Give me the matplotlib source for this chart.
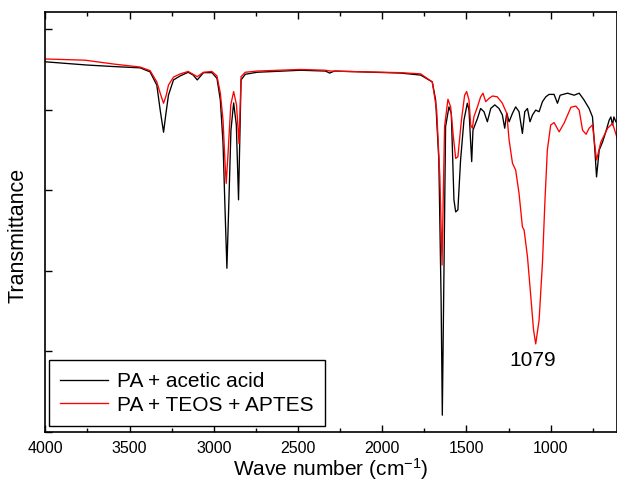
import numpy as np
import matplotlib
matplotlib.use('Agg')
import matplotlib.pyplot as plt
from matplotlib.ticker import MultipleLocator, NullFormatter

plt.rcParams['font.family'] = ['Liberation Sans', 'DejaVu Sans']
plt.rcParams['mathtext.fontset'] = 'custom'
plt.rcParams['mathtext.rm'] = 'Liberation Sans'
plt.rcParams['mathtext.it'] = 'Liberation Sans:italic'

# PA + acetic acid (wavenumber cm-1, transmittance, arbitrary %)
wn_acetic = [4000, 3754, 3586, 3437, 3378, 3338, 3318, 3298, 3285, 3269, 3239, 3199,
             3152, 3122, 3098, 3061, 3011, 2981, 2961, 2945, 2933, 2922, 2910, 2898,
             2882, 2866, 2853, 2838, 2813, 2743, 2486, 2337, 2312, 2284, 1891, 1772,
             1703, 1683, 1664, 1650.5, 1643.4, 1635.6, 1624, 1604, 1590, 1574.4, 1564,
             1551, 1535, 1515, 1495, 1485, 1475, 1469, 1461.5, 1435, 1416, 1396, 1376,
             1356, 1332, 1307, 1287, 1273, 1261, 1247, 1227, 1208, 1188, 1168, 1154,
             1138, 1123, 1108, 1089, 1069, 1049, 1029, 1010, 980, 960, 944, 900, 861,
             831, 802, 772, 752, 738, 728, 712, 692, 673, 653, 643, 633, 625, 613]
tr_acetic = [91.9, 91.1, 90.7, 90.4, 89.4, 86.1, 79.9, 74.4, 78.7, 83.6, 87.4, 88.4,
             89.3, 88.6, 87.4, 89.2, 89.2, 87.8, 82.4, 71.7, 55.1, 40.6, 57.6, 74.9,
             81.7, 76.2, 57.6, 87.4, 88.8, 89.3, 89.8, 89.6, 89.1, 89.6, 89.1, 88.6,
             86.9, 82.4, 67.5, 32.7, 4.1, 32.7, 75.8, 80.7, 79.1, 57.6, 54.6,
             55.1, 67.5, 77.4, 81.6, 79.9, 71.7, 67.1, 74.9, 77.8, 80.3, 79.5, 77.0,
             80.3, 81.2, 80.3, 78.7, 75.4, 79.2, 77.0, 79.1, 80.7, 79.5, 74.1, 79.5,
             80.3, 77.0, 78.7, 79.9, 79.5, 82.0, 83.2, 83.8, 83.8, 81.6, 83.6, 84.1, 83.6,
             84.1, 82.4, 80.3, 78.2, 70.0, 63.3, 70.0, 72.0, 74.5, 77.4, 78.2, 76.2, 78.2, 77.0]

# PA + TEOS + APTES
wn_teos = [4000, 3764, 3586, 3437, 3378, 3338, 3318, 3298, 3282, 3269, 3239, 3199,
           3152, 3098, 3061, 3011, 2981, 2961, 2945, 2934, 2926, 2914, 2899, 2882,
           2865, 2850, 2838, 2813, 2743, 2486, 2337, 2307, 1891, 1772, 1703, 1677,
           1658, 1645, 1636, 1630, 1610, 1594, 1578, 1564, 1551, 1530, 1511, 1499,
           1485, 1475, 1465, 1456, 1435, 1416, 1402, 1386, 1366, 1346, 1317, 1287,
           1261, 1247, 1227, 1208, 1188, 1168, 1158, 1138, 1118, 1102, 1089, 1069,
           1049, 1034, 1020, 1000, 980, 950, 920, 880, 851, 831, 811, 790, 772, 752,
           728, 702, 662, 633, 602]
tr_teos = [92.6, 92.3, 91.3, 90.6, 89.7, 86.9, 84.1, 81.6, 83.6, 86.1, 88.1, 88.9,
           89.5, 88.2, 89.3, 89.5, 88.4, 84.1, 77.4, 67.5, 61.7, 70.0, 81.2, 84.5,
           81.2, 71.6, 88.2, 89.3, 89.6, 90.0, 89.8, 89.6, 89.2, 88.9, 86.9, 79.9,
           63.3, 41.4, 62.5, 75.8, 82.6, 80.7, 73.3, 67.9, 68.3, 77.4, 83.6, 84.5,
           82.4, 76.2, 75.4, 78.2, 80.7, 83.2, 84.1, 82.0, 82.8, 83.4, 83.2, 81.6,
           79.1, 72.5, 66.7, 65.0, 59.2, 50.9, 50.1, 43.5, 33.5, 25.3, 21.8, 27.7,
           41.9, 57.6, 70.0, 76.2, 76.8, 74.5, 76.7, 80.6, 80.9, 79.9, 74.9, 73.9, 75.4, 76.2,
           67.5, 72.0, 75.4, 76.6, 72.5]

peak_label = '1079'
peak_pos = (1107, 17.8)

fig = plt.figure(figsize=(6.17, 4.82), dpi=100)
ax = fig.add_axes([0.0734, 0.1044, 0.9262, 0.8701])

ax.plot(wn_acetic, tr_acetic, color='black', lw=0.95, label='PA + acetic acid')
ax.plot(wn_teos, tr_teos, color='red', lw=0.95, label='PA + TEOS + APTES')

ax.text(peak_pos[0], peak_pos[1], peak_label, fontsize=15, ha='center', va='center')

ax.set_xlim(4000, 608)
ax.set_ylim(0, 104.2)
ax.xaxis.set_major_locator(MultipleLocator(500))
ax.xaxis.set_minor_locator(MultipleLocator(250))
ax.yaxis.set_major_locator(MultipleLocator(20))
ax.yaxis.set_major_formatter(NullFormatter())
ax.tick_params(which='both', direction='in', top=True, right=False, width=1.0,
               labelsize=11.5)
ax.tick_params(axis='x', which='major', length=5, pad=7)
ax.tick_params(axis='y', which='major', length=5)
ax.tick_params(which='minor', length=3)
for s in ax.spines.values():
    s.set_linewidth(1.2)

ax.set_xlabel('Wave number (cm$^{-1}$)', fontsize=15, labelpad=0)
ax.set_ylabel('Transmittance', fontsize=15.5)
ax.yaxis.set_label_coords(-0.029, 0.467)

leg = ax.legend(loc='lower left', bbox_to_anchor=(0.0065, 0.0136), borderaxespad=0,
                fontsize=15, fancybox=False, edgecolor='black', framealpha=1,
                handlelength=2.3, handletextpad=0.4, labelspacing=0.22,
                borderpad=0.55)
leg.get_frame().set_linewidth(1.0)

fig.savefig('out.png', dpi=100)
